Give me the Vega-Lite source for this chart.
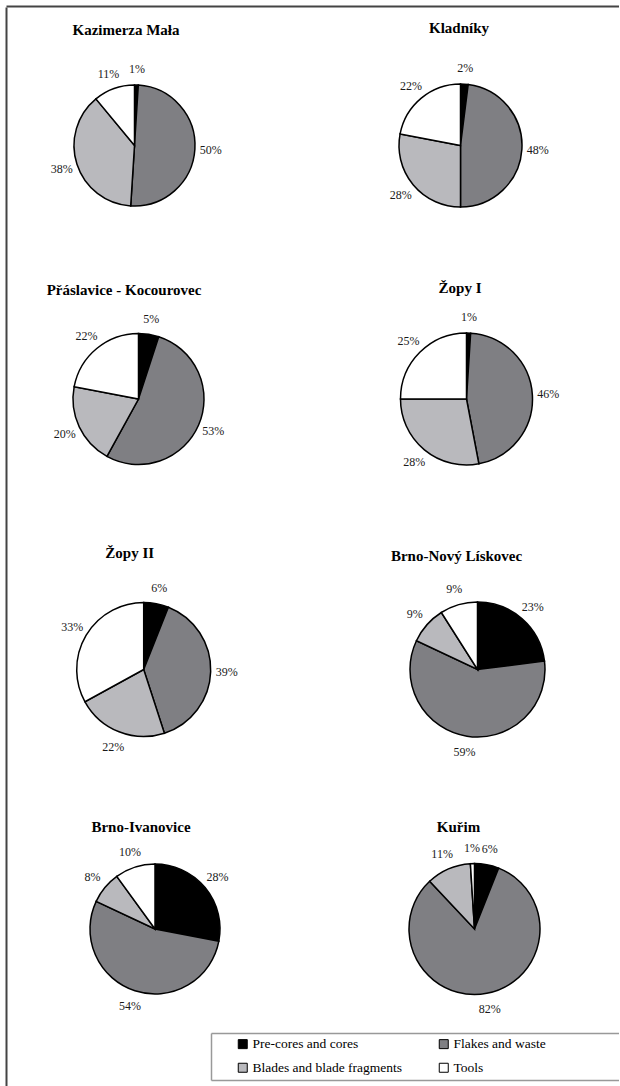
{
  "$schema": "https://vega.github.io/schema/vega-lite/v6.json",
  "padding": {"left": 6, "top": 6, "right": 0, "bottom": 0},
  "background": "white",
  "datasets": {
    "d": [
      {"site": "Kazimerza  Mała", "cat": "Pre-cores and cores", "k": 1, "share": 0.01},
      {"site": "Kazimerza  Mała", "cat": "Flakes and waste", "k": 2, "share": 0.50},
      {"site": "Kazimerza  Mała", "cat": "Blades and blade fragments", "k": 3, "share": 0.38},
      {"site": "Kazimerza  Mała", "cat": "Tools", "k": 4, "share": 0.11},
      {"site": "Kladníky", "cat": "Pre-cores and cores", "k": 1, "share": 0.02},
      {"site": "Kladníky", "cat": "Flakes and waste", "k": 2, "share": 0.48},
      {"site": "Kladníky", "cat": "Blades and blade fragments", "k": 3, "share": 0.28},
      {"site": "Kladníky", "cat": "Tools", "k": 4, "share": 0.22},
      {"site": "Přáslavice - Kocourovec", "cat": "Pre-cores and cores", "k": 1, "share": 0.05},
      {"site": "Přáslavice - Kocourovec", "cat": "Flakes and waste", "k": 2, "share": 0.53},
      {"site": "Přáslavice - Kocourovec", "cat": "Blades and blade fragments", "k": 3, "share": 0.20},
      {"site": "Přáslavice - Kocourovec", "cat": "Tools", "k": 4, "share": 0.22},
      {"site": "Žopy I", "cat": "Pre-cores and cores", "k": 1, "share": 0.01},
      {"site": "Žopy I", "cat": "Flakes and waste", "k": 2, "share": 0.46},
      {"site": "Žopy I", "cat": "Blades and blade fragments", "k": 3, "share": 0.28},
      {"site": "Žopy I", "cat": "Tools", "k": 4, "share": 0.25},
      {"site": "Žopy II", "cat": "Pre-cores and cores", "k": 1, "share": 0.06},
      {"site": "Žopy II", "cat": "Flakes and waste", "k": 2, "share": 0.39},
      {"site": "Žopy II", "cat": "Blades and blade fragments", "k": 3, "share": 0.22},
      {"site": "Žopy II", "cat": "Tools", "k": 4, "share": 0.33},
      {"site": "Brno-Nový Lískovec", "cat": "Pre-cores and cores", "k": 1, "share": 0.23},
      {"site": "Brno-Nový Lískovec", "cat": "Flakes and waste", "k": 2, "share": 0.59},
      {"site": "Brno-Nový Lískovec", "cat": "Blades and blade fragments", "k": 3, "share": 0.09},
      {"site": "Brno-Nový Lískovec", "cat": "Tools", "k": 4, "share": 0.09},
      {"site": "Brno-Ivanovice", "cat": "Pre-cores and cores", "k": 1, "share": 0.28},
      {"site": "Brno-Ivanovice", "cat": "Flakes and waste", "k": 2, "share": 0.54},
      {"site": "Brno-Ivanovice", "cat": "Blades and blade fragments", "k": 3, "share": 0.08},
      {"site": "Brno-Ivanovice", "cat": "Tools", "k": 4, "share": 0.10},
      {"site": "Kuřim", "cat": "Pre-cores and cores", "k": 1, "share": 0.06},
      {"site": "Kuřim", "cat": "Flakes and waste", "k": 2, "share": 0.82},
      {"site": "Kuřim", "cat": "Blades and blade fragments", "k": 3, "share": 0.11},
      {"site": "Kuřim", "cat": "Tools", "k": 4, "share": 0.01}
    ]
  },
  "bounds": "flush",
  "spacing": 0,
  "vconcat": [
    {
      "width": 613, "height": 0.01,
      "data": {"values": [{"v": 0.5}]},
      "mark": {"type": "point", "opacity": 0, "size": 0},
      "encoding": {
        "x": {"field": "v", "type": "quantitative", "scale": {"domain": [0, 1]},
          "axis": {"orient": "top", "domain": true, "domainColor": "#444", "domainWidth": 2, "grid": false, "ticks": false, "labels": false, "title": null}}
      }
    },
    {
      "bounds": "flush",
      "spacing": 0,
      "hconcat": [
        {
          "width": 0.01, "height": 1079,
          "data": {"values": [{"v": 0.5}]},
          "mark": {"type": "point", "opacity": 0, "size": 0},
          "encoding": {
            "y": {"field": "v", "type": "quantitative", "scale": {"domain": [0, 1]},
              "axis": {"orient": "left", "domain": true, "domainColor": "#444", "domainWidth": 2, "grid": false, "ticks": false, "labels": false, "title": null}}
          }
        },
        {
          "bounds": "flush",
          "align": "none",
          "columns": 2,
          "spacing": {"row": 0, "column": 40},
          "concat": [
            {
              "width": 255, "height": 277,
              "title": {"text": "Kazimerza  Mała", "dx": -8.5, "dy": 35},
              "data": {"name": "d"},
              "transform": [{"filter": "datum.site === 'Kazimerza  Mała'"}],
              "encoding": {"theta": {"field": "share", "type": "quantitative", "stack": true}, "order": {"field": "k", "type": "quantitative"}},
              "layer": [
                {"mark": {"type": "arc", "radius": 60.5, "stroke": "black", "strokeWidth": 1.5},
                 "encoding": {"color": {"field": "cat", "type": "nominal",
                   "scale": {"domain": ["Pre-cores and cores", "Flakes and waste", "Blades and blade fragments", "Tools"], "range": ["#000000", "#7f7f83", "#b9b9bd", "#ffffff"]},
                   "legend": {"orient": "none", "legendX": 230, "legendY": 1031, "direction": "horizontal", "columns": 2}}}},
                {"mark": {"type": "text", "radius": 76.5, "fontSize": 12, "fill": "#1a1a1a"},
                 "encoding": {"text": {"field": "share", "type": "quantitative", "format": ".0%"}, "detail": {"field": "cat"}}}
              ]
            },
            {
              "width": 235, "height": 277,
              "title": {"text": "Kladníky", "dx": -1.5, "dy": 32.5},
              "data": {"name": "d"},
              "transform": [{"filter": "datum.site === 'Kladníky'"}],
              "encoding": {"theta": {"field": "share", "type": "quantitative", "stack": true}, "order": {"field": "k", "type": "quantitative"}},
              "layer": [
                {"mark": {"type": "arc", "radius": 61.5, "stroke": "black", "strokeWidth": 1.5},
                 "encoding": {"color": {"field": "cat", "type": "nominal",
                   "scale": {"domain": ["Pre-cores and cores", "Flakes and waste", "Blades and blade fragments", "Tools"], "range": ["#000000", "#7f7f83", "#b9b9bd", "#ffffff"]},
                   "legend": {"orient": "none", "legendX": 230, "legendY": 1031, "direction": "horizontal", "columns": 2}}}},
                {"mark": {"type": "text", "radius": 77.5, "fontSize": 12, "fill": "#1a1a1a"},
                 "encoding": {"text": {"field": "share", "type": "quantitative", "format": ".0%"}, "detail": {"field": "cat"}}}
              ]
            },
            {
              "width": 263, "height": 230,
              "title": {"text": "Přáslavice - Kocourovec", "dx": -14.5, "dy": 18},
              "data": {"name": "d"},
              "transform": [{"filter": "datum.site === 'Přáslavice - Kocourovec'"}],
              "encoding": {"theta": {"field": "share", "type": "quantitative", "stack": true}, "order": {"field": "k", "type": "quantitative"}},
              "layer": [
                {"mark": {"type": "arc", "radius": 65.5, "stroke": "black", "strokeWidth": 1.5},
                 "encoding": {"color": {"field": "cat", "type": "nominal",
                   "scale": {"domain": ["Pre-cores and cores", "Flakes and waste", "Blades and blade fragments", "Tools"], "range": ["#000000", "#7f7f83", "#b9b9bd", "#ffffff"]},
                   "legend": {"orient": "none", "legendX": 230, "legendY": 1031, "direction": "horizontal", "columns": 2}}}},
                {"mark": {"type": "text", "radius": 81.5, "fontSize": 12, "fill": "#1a1a1a"},
                 "encoding": {"text": {"field": "share", "type": "quantitative", "format": ".0%"}, "detail": {"field": "cat"}}}
              ]
            },
            {
              "width": 247, "height": 230,
              "title": {"text": "Žopy I", "dx": -6.5, "dy": 16},
              "data": {"name": "d"},
              "transform": [{"filter": "datum.site === 'Žopy I'"}],
              "encoding": {"theta": {"field": "share", "type": "quantitative", "stack": true}, "order": {"field": "k", "type": "quantitative"}},
              "layer": [
                {"mark": {"type": "arc", "radius": 66, "stroke": "black", "strokeWidth": 1.5},
                 "encoding": {"color": {"field": "cat", "type": "nominal",
                   "scale": {"domain": ["Pre-cores and cores", "Flakes and waste", "Blades and blade fragments", "Tools"], "range": ["#000000", "#7f7f83", "#b9b9bd", "#ffffff"]},
                   "legend": {"orient": "none", "legendX": 230, "legendY": 1031, "direction": "horizontal", "columns": 2}}}},
                {"mark": {"type": "text", "radius": 82, "fontSize": 12, "fill": "#1a1a1a"},
                 "encoding": {"text": {"field": "share", "type": "quantitative", "format": ".0%"}, "detail": {"field": "cat"}}}
              ]
            },
            {
              "width": 273.4, "height": 311,
              "title": {"text": "Žopy II", "dx": -14, "dy": 51},
              "data": {"name": "d"},
              "transform": [{"filter": "datum.site === 'Žopy II'"}],
              "encoding": {"theta": {"field": "share", "type": "quantitative", "stack": true}, "order": {"field": "k", "type": "quantitative"}},
              "layer": [
                {"mark": {"type": "arc", "radius": 67, "stroke": "black", "strokeWidth": 1.5},
                 "encoding": {"color": {"field": "cat", "type": "nominal",
                   "scale": {"domain": ["Pre-cores and cores", "Flakes and waste", "Blades and blade fragments", "Tools"], "range": ["#000000", "#7f7f83", "#b9b9bd", "#ffffff"]},
                   "legend": {"orient": "none", "legendX": 230, "legendY": 1031, "direction": "horizontal", "columns": 2}}}},
                {"mark": {"type": "text", "radius": 83, "fontSize": 12, "fill": "#1a1a1a"},
                 "encoding": {"text": {"field": "share", "type": "quantitative", "format": ".0%"}, "detail": {"field": "cat"}}}
              ]
            },
            {
              "width": 269, "height": 311,
              "title": {"text": "Brno-Nový Lískovec", "dx": -21, "dy": 54},
              "data": {"name": "d"},
              "transform": [{"filter": "datum.site === 'Brno-Nový Lískovec'"}],
              "encoding": {"theta": {"field": "share", "type": "quantitative", "stack": true}, "order": {"field": "k", "type": "quantitative"}},
              "layer": [
                {"mark": {"type": "arc", "radius": 67.5, "stroke": "black", "strokeWidth": 1.5},
                 "encoding": {"color": {"field": "cat", "type": "nominal",
                   "scale": {"domain": ["Pre-cores and cores", "Flakes and waste", "Blades and blade fragments", "Tools"], "range": ["#000000", "#7f7f83", "#b9b9bd", "#ffffff"]},
                   "legend": {"orient": "none", "legendX": 230, "legendY": 1031, "direction": "horizontal", "columns": 2}}}},
                {"mark": {"type": "text", "radius": 83.5, "fontSize": 12, "fill": "#1a1a1a"},
                 "encoding": {"text": {"field": "share", "type": "quantitative", "format": ".0%"}, "detail": {"field": "cat"}}}
              ]
            },
            {
              "width": 296, "height": 208,
              "title": {"text": "Brno-Ivanovice", "dx": -14, "dy": 14},
              "data": {"name": "d"},
              "transform": [{"filter": "datum.site === 'Brno-Ivanovice'"}],
              "encoding": {"theta": {"field": "share", "type": "quantitative", "stack": true}, "order": {"field": "k", "type": "quantitative"}},
              "layer": [
                {"mark": {"type": "arc", "radius": 65, "stroke": "black", "strokeWidth": 1.5},
                 "encoding": {"color": {"field": "cat", "type": "nominal",
                   "scale": {"domain": ["Pre-cores and cores", "Flakes and waste", "Blades and blade fragments", "Tools"], "range": ["#000000", "#7f7f83", "#b9b9bd", "#ffffff"]},
                   "legend": {"orient": "none", "legendX": 230, "legendY": 1031, "direction": "horizontal", "columns": 2}}}},
                {"mark": {"type": "text", "radius": 81, "fontSize": 12, "fill": "#1a1a1a"},
                 "encoding": {"text": {"field": "share", "type": "quantitative", "format": ".0%"}, "detail": {"field": "cat"}}}
              ]
            },
            {
              "width": 263, "height": 208,
              "title": {"text": "Kuřim", "dx": -16, "dy": 14},
              "data": {"name": "d"},
              "transform": [{"filter": "datum.site === 'Kuřim'"}],
              "encoding": {"theta": {"field": "share", "type": "quantitative", "stack": true}, "order": {"field": "k", "type": "quantitative"}},
              "layer": [
                {"mark": {"type": "arc", "radius": 65.5, "stroke": "black", "strokeWidth": 1.5},
                 "encoding": {"color": {"field": "cat", "type": "nominal",
                   "scale": {"domain": ["Pre-cores and cores", "Flakes and waste", "Blades and blade fragments", "Tools"], "range": ["#000000", "#7f7f83", "#b9b9bd", "#ffffff"]},
                   "legend": {"orient": "none", "legendX": 230, "legendY": 1031, "direction": "horizontal", "columns": 2}}}},
                {"mark": {"type": "text", "radius": 81.5, "fontSize": 12, "fill": "#1a1a1a"},
                 "encoding": {"text": {"field": "share", "type": "quantitative", "format": ".0%"}, "detail": {"field": "cat"}}}
              ]
            },
            {
              "width": 200, "height": 47,
              "data": {"values": [{"v": 0.5}]},
              "mark": {"type": "point", "opacity": 0, "size": 0},
              "encoding": {
                "x": {"field": "v", "type": "quantitative", "scale": {"domain": [0, 1], "range": [204, 613]}, "axis": null},
                "y": {"field": "v", "type": "quantitative", "scale": {"domain": [0, 1]},
                  "axis": {"orient": "left", "offset": -204, "values": [0, 1], "grid": true, "gridColor": "#999", "gridWidth": 1.5, "gridOpacity": 1,
                           "domain": true, "domainColor": "#999", "domainWidth": 1.5, "ticks": false, "labels": false, "title": null}}
              }
            }
          ]
        }
      ]
    }
  ],
  "config": {
    "view": {"stroke": null},
    "font": "Liberation Serif",
    "title": {"font": "Liberation Serif", "fontSize": 15, "fontWeight": "bold", "color": "black", "anchor": "middle", "offset": 0},
    "axis": {"minExtent": 0, "maxExtent": 0},
    "legend": {
      "orient": "none", "legendX": 230, "legendY": 1031, "direction": "horizontal",
      "title": null, "columns": 2, "columnPadding": 34, "rowPadding": 9, "padding": 0,
      "symbolType": "square", "symbolSize": 81, "symbolStrokeColor": "black", "symbolStrokeWidth": 1,
      "labelFont": "Liberation Serif", "labelFontSize": 13.5, "labelColor": "black", "labelOffset": 3, "labelLimit": 0
    }
  }
}
